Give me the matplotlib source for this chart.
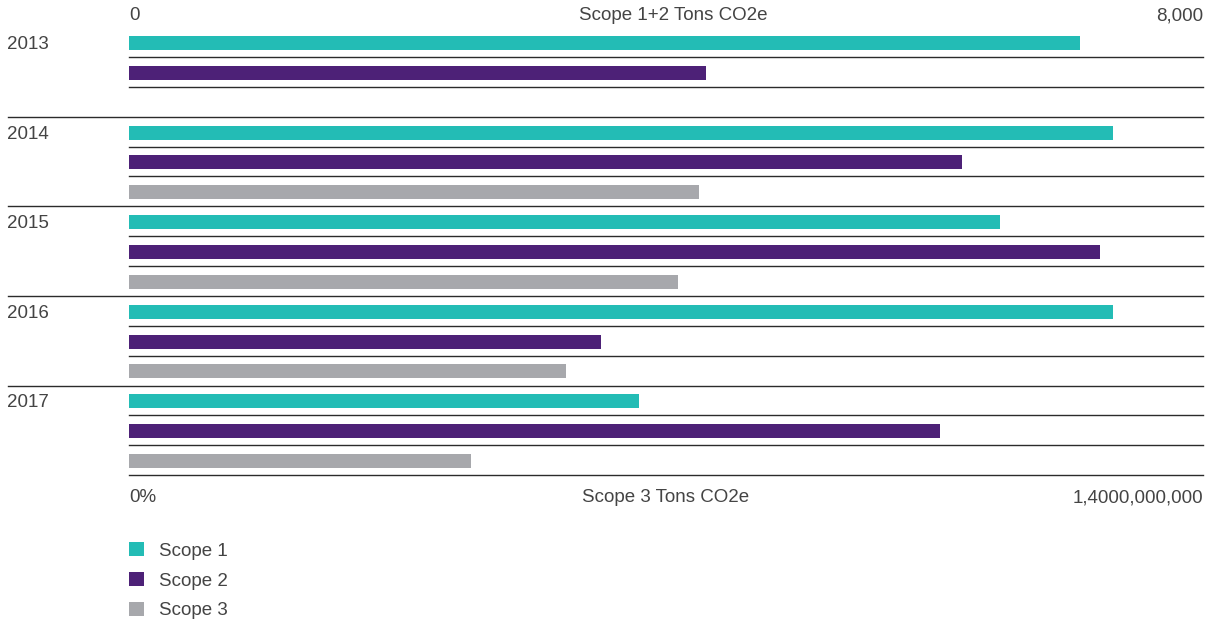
import matplotlib.pyplot as plt
import matplotlib.transforms as mtransforms
from matplotlib.patches import Patch

# ---------------------------
# data
# ---------------------------
years = ['2013', '2014', '2015', '2016', '2017']
scope1 = [7085, 7330, 6490, 7330, 3800]          # tons CO2e
scope2 = [4300, 6205, 7235, 3515, 6040]          # tons CO2e
scope3 = [None, 743e6, 716e6, 570e6, 446e6]      # tons CO2e (2013 missing)

top_labels = ['0', 'Scope 1+2 Tons CO2e', '8,000']
bottom_labels = ['0%', 'Scope 3 Tons CO2e', '1,4000,000,000']
series_names = ['Scope 1', 'Scope 2', 'Scope 3']

c1 = '#23bcb5'
c2 = '#4d2177'
c3 = '#a7a8ac'
txt = '#444444'
line_c = '#2b2b2b'

plt.rcParams['font.family'] = ['Liberation Sans', 'DejaVu Sans']
fs = 13.5

fig = plt.figure(figsize=(12.27, 6.24), dpi=100)
ax = fig.add_axes([129 / 1227, 148 / 624, 1074 / 1227, 448 / 624])
ax2 = ax.twiny()

n = len(years)
rows1 = [3 * i for i in range(n)]
rows2 = [3 * i + 1 for i in range(n)]
rows3 = [3 * i + 2 for i in range(n)]
bh = 0.47

ax.barh(rows1, scope1, height=bh, color=c1)
ax.barh(rows2, scope2, height=bh, color=c2)
r3 = [r for r, v in zip(rows3, scope3) if v is not None]
v3 = [v for v in scope3 if v is not None]
ax2.barh(r3, v3, height=bh, color=c3)

ax.set_xlim(0, 8000)
ax2.set_xlim(0, 1.4e9)
for a in (ax, ax2):
    a.set_ylim(3 * n - 0.5, -0.5)
    a.axis('off')

# separator lines under every row; year separators reach the left edge
trans = mtransforms.blended_transform_factory(ax.transAxes, ax.transData)
for r in range(3 * n):
    y = r + 0.47
    long_line = (r % 3 == 2) and (r != 3 * n - 1)
    x0 = -121 / 1074 if long_line else 0
    ax.plot([x0, 1], [y, y], color=line_c, lw=1.0, transform=trans,
            clip_on=False, zorder=1)

# year labels
for i, yr in enumerate(years):
    ax.text(-122 / 1074, rows1[i] + 0.05, yr, transform=trans, ha='left',
            va='center', fontsize=fs, color=txt)

# axis end labels
fig.text(129 / 1227, 1 - 16 / 624, top_labels[0], ha='left', va='center',
         fontsize=fs, color=txt)
fig.text(673 / 1227, 1 - 16 / 624, top_labels[1], ha='center', va='center',
         fontsize=fs, color=txt)
fig.text(1203 / 1227, 1 - 16 / 624, top_labels[2], ha='right', va='center',
         fontsize=fs, color=txt)
fig.text(129 / 1227, 1 - 498 / 624, bottom_labels[0], ha='left', va='center',
         fontsize=fs, color=txt)
fig.text(666 / 1227, 1 - 498 / 624, bottom_labels[1], ha='center',
         va='center', fontsize=fs, color=txt)
fig.text(1203 / 1227, 1 - 498 / 624, bottom_labels[2], ha='right',
         va='center', fontsize=fs, color=txt)

# legend
handles = [Patch(facecolor=c, edgecolor='none') for c in (c1, c2, c3)]
leg = fig.legend(handles, series_names, loc='upper left',
                 bbox_to_anchor=(129 / 1227, 1 - 542 / 624), frameon=False,
                 fontsize=fs, handlelength=0.78, handleheight=0.78,
                 handletextpad=0.8, labelspacing=0.66, borderpad=0,
                 borderaxespad=0)
for t in leg.get_texts():
    t.set_color(txt)

fig.savefig('out.png', dpi=100)
